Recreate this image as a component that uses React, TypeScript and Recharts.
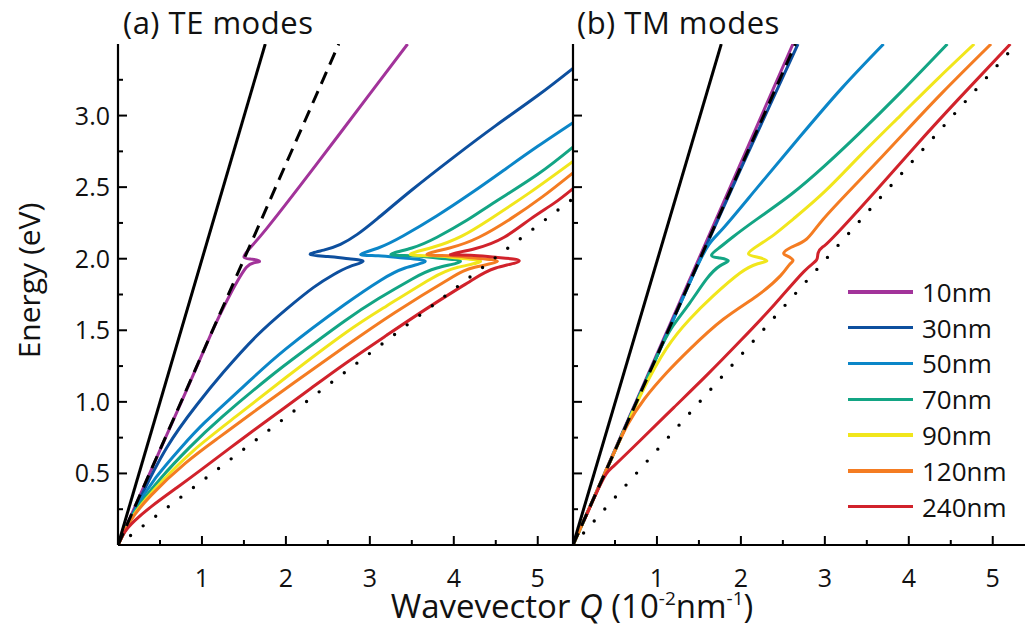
import React from "react";
import { LineChart, Line, XAxis, YAxis, Legend } from "recharts";

type Pt = [number, number];

const FONT = "'Open Sans', 'Noto Sans', sans-serif";

// axes
const Q_MAX = 5.42;
const E_MAX = 3.5;
const Q_TICKS = [0.5, 1, 1.5, 2, 2.5, 3, 3.5, 4, 4.5, 5];
const E_TICKS = [0.25, 0.5, 0.75, 1, 1.25, 1.5, 1.75, 2, 2.25, 2.5, 2.75, 3, 3.25];

// film thickness series
const THICKNESS = ["10nm", "30nm", "50nm", "70nm", "90nm", "120nm", "240nm"];
const COLORS = ["#a2339a", "#0d4f9e", "#0b86c8", "#13a584", "#f1e61c", "#f47c22", "#d1222b"];

// (a) TE modes: light lines
const teLight: Pt[] = [[0, 0], [1.754, 3.5]];
const teSubstrate: Pt[] = [[0, 0], [2.63, 3.5]];
const teCore: Pt[] = [[0, 0], [5.42, 2.42]];

// (a) TE modes: dispersion (Q, E)
const te10: Pt[] = [[0, 0], [0.4, 0.53], [0.8, 1.06], [1.12, 1.49], [1.3, 1.71], [1.42, 1.84], [1.53, 1.94], [1.62, 1.972], [1.686, 1.982], [1.6, 1.996], [1.5, 2.012], [1.58, 2.08], [1.77, 2.21], [2.17, 2.51], [2.65, 2.88], [3.05, 3.19], [3.45, 3.5]];
const te30: Pt[] = [[0, 0], [0.25, 0.31], [0.58, 0.68], [0.94, 0.98], [1.26, 1.21], [1.65, 1.46], [2.01, 1.65], [2.33, 1.8], [2.57, 1.89], [2.76, 1.945], [2.92, 1.982], [2.75, 2.0], [2.5, 2.015], [2.29, 2.03], [2.45, 2.06], [2.65, 2.1], [2.85, 2.17], [3.09, 2.28], [3.5, 2.48], [4.0, 2.71], [4.5, 2.93], [5.0, 3.14], [5.42, 3.33]];
const te50: Pt[] = [[0, 0], [0.2, 0.24], [0.45, 0.47], [0.75, 0.68], [1.04, 0.86], [1.5, 1.11], [2.0, 1.37], [2.7, 1.68], [3.13, 1.85], [3.42, 1.935], [3.66, 1.982], [3.4, 2.005], [3.1, 2.02], [2.89, 2.03], [3.1, 2.075], [3.4, 2.16], [3.8, 2.3], [4.2, 2.455], [4.6, 2.62], [5.0, 2.785], [5.42, 2.95]];
const te70: Pt[] = [[0, 0], [0.2, 0.23], [0.5, 0.46], [0.85, 0.68], [1.25, 0.9], [1.8, 1.17], [2.2, 1.35], [2.7, 1.565], [3.1, 1.72], [3.5, 1.857], [3.8, 1.935], [4.08, 1.982], [3.8, 2.005], [3.5, 2.02], [3.25, 2.03], [3.5, 2.075], [3.8, 2.15], [4.16, 2.27], [4.5, 2.4], [5.0, 2.59], [5.42, 2.78]];
const te90: Pt[] = [[0, 0], [0.2, 0.22], [0.5, 0.43], [0.9, 0.66], [1.41, 0.9], [2.0, 1.17], [2.7, 1.478], [3.2, 1.67], [3.72, 1.857], [4.05, 1.94], [4.32, 1.982], [4.05, 2.005], [3.75, 2.02], [3.48, 2.03], [3.75, 2.08], [4.1, 2.16], [4.44, 2.28], [4.9, 2.46], [5.42, 2.68]];
const te120: Pt[] = [[0, 0], [0.15, 0.17], [0.4, 0.35], [0.8, 0.57], [1.2, 0.75], [1.57, 0.91], [2.1, 1.135], [2.7, 1.385], [3.3, 1.625], [3.94, 1.857], [4.25, 1.94], [4.52, 1.982], [4.25, 2.005], [3.95, 2.02], [3.68, 2.03], [3.95, 2.075], [4.3, 2.15], [4.68, 2.28], [5.05, 2.43], [5.42, 2.6]];
const te240: Pt[] = [[0, 0], [0.08, 0.09], [0.2, 0.17], [0.4, 0.27], [0.7, 0.4], [1.0, 0.53], [1.43, 0.72], [1.87, 0.91], [2.3, 1.095], [2.7, 1.265], [3.2, 1.465], [3.7, 1.66], [4.2, 1.845], [4.5, 1.935], [4.78, 1.985], [4.5, 2.01], [4.2, 2.025], [3.96, 2.03], [4.25, 2.07], [4.6, 2.15], [4.92, 2.28], [5.2, 2.39], [5.42, 2.49]];

// (b) TM modes: light lines
const tmLight: Pt[] = [[0, 0], [1.766, 3.5]];
const tmSubstrate: Pt[] = [[0, 0], [2.65, 3.5]];
const tmCore: Pt[] = [[0, 0], [5.28, 3.5]];

// (b) TM modes: dispersion (Q, E)
const tm10: Pt[] = [[0, 0], [1.2, 1.6], [2.62, 3.5]];
const tm30: Pt[] = [[0, 0], [1.2, 1.585], [2.0, 2.63], [2.68, 3.5]];
const tm50: Pt[] = [[0, 0], [0.75, 0.99], [1.2, 1.58], [1.45, 1.91], [1.62, 2.1], [1.8, 2.22], [2.2, 2.5], [2.7, 2.85], [3.2, 3.19], [3.7, 3.5]];
const tm70: Pt[] = [[0, 0], [0.6, 0.79], [1.0, 1.32], [1.19, 1.53], [1.39, 1.69], [1.59, 1.857], [1.75, 1.95], [1.85, 1.985], [1.75, 2.005], [1.65, 2.025], [1.75, 2.08], [1.9, 2.15], [2.2, 2.28], [2.6, 2.45], [3.0, 2.65], [3.4, 2.87], [3.9, 3.16], [4.46, 3.5]];
const tm90: Pt[] = [[0, 0], [0.5, 0.66], [0.72, 0.94], [0.85, 1.1], [1.11, 1.37], [1.39, 1.577], [1.67, 1.74], [1.99, 1.9], [2.2, 1.965], [2.31, 1.985], [2.2, 2.01], [2.09, 2.035], [2.2, 2.09], [2.4, 2.17], [2.63, 2.28], [3.0, 2.47], [3.42, 2.72], [3.9, 3.0], [4.35, 3.26], [4.78, 3.5]];
const tm120: Pt[] = [[0, 0], [0.44, 0.58], [0.65, 0.84], [0.85, 1.02], [1.11, 1.2], [1.39, 1.367], [1.79, 1.577], [2.19, 1.74], [2.47, 1.88], [2.58, 1.96], [2.62, 1.99], [2.55, 2.02], [2.51, 2.04], [2.6, 2.08], [2.78, 2.136], [2.98, 2.276], [3.4, 2.54], [3.9, 2.85], [4.4, 3.16], [4.98, 3.5]];
const tm240: Pt[] = [[0.13, 0.17], [0.3, 0.39], [0.4, 0.5], [0.5, 0.56], [0.8, 0.73], [1.2, 0.96], [1.6, 1.19], [2.0, 1.43], [2.4, 1.68], [2.75, 1.91], [2.9, 1.99], [2.92, 2.04], [2.97, 2.08], [3.1, 2.15], [3.6, 2.47], [4.1, 2.8], [4.6, 3.12], [5.21, 3.5]];

const toRows = (pts: Pt[]) => pts.map(([q, e]) => ({ q, e }));

// inward ticks, drawn at the positions recharts gives us
const BottomTick = (props: any) => {
  const { x, y, payload, showLabel } = props;
  const v = payload.value;
  const major = Number.isInteger(v);
  return (
    <g>
      <line x1={x} x2={x} y1={y} y2={y - (major ? 9 : 5)} stroke="#000" strokeWidth={2} />
      {major && showLabel && (
        <text x={x} y={y + 42} textAnchor="middle" fontSize={25} fill="#111" fontFamily={FONT}>
          {v}
        </text>
      )}
    </g>
  );
};

const TopTick = (props: any) => {
  const { x, y, payload } = props;
  const major = Number.isInteger(payload.value);
  return <line x1={x} x2={x} y1={y} y2={y + (major ? 9 : 5)} stroke="#000" strokeWidth={2} />;
};

const LeftTick = (props: any) => {
  const { x, y, payload, showLabel } = props;
  const v = payload.value;
  const major = Math.abs(v * 2 - Math.round(v * 2)) < 1e-6;
  return (
    <g>
      <line x1={x} x2={x + (major ? 9 : 5)} y1={y} y2={y} stroke="#000" strokeWidth={2} />
      {major && showLabel && (
        <text x={x - 8} y={y + 9} textAnchor="end" fontSize={25} fill="#111" fontFamily={FONT}>
          {v.toFixed(1)}
        </text>
      )}
    </g>
  );
};

const RightTick = (props: any) => {
  const { x, y, payload } = props;
  const v = payload.value;
  const major = Math.abs(v * 2 - Math.round(v * 2)) < 1e-6;
  return <line x1={x} x2={x - (major ? 9 : 5)} y1={y} y2={y} stroke="#000" strokeWidth={2} />;
};

const renderLegend = (props: any) => {
  const items = (props.payload || [])
    .filter((p: any) => THICKNESS.includes(p.value))
    .sort((a: any, b: any) => THICKNESS.indexOf(a.value) - THICKNESS.indexOf(b.value));
  return (
    <div style={{ fontFamily: FONT }}>
      {items.map((p: any) => (
        <div key={p.value} style={{ display: "flex", alignItems: "center", height: 35.8 }}>
          <span style={{ display: "inline-block", width: 65, height: 3.5, background: p.color }} />
          <span style={{ marginLeft: 9, fontSize: 26, color: "#111", lineHeight: "30px" }}>{p.value}</span>
        </div>
      ))}
    </div>
  );
};

const axisLine = { stroke: "#000", strokeWidth: 2.2 };

const supStyle: React.CSSProperties = { fontSize: 19, position: "relative", top: -13, lineHeight: 0 };

function Panel({
  curves,
  light,
  substrate,
  core,
  dotGap,
  showYLabels,
  showLegend,
}: {
  curves: Pt[][];
  light: Pt[];
  substrate: Pt[];
  core: Pt[];
  dotGap: number;
  showYLabels: boolean;
  showLegend: boolean;
}) {
  return (
    <LineChart width={600} height={629} margin={{ top: 44, right: 27, bottom: 0, left: 0 }}>
      <XAxis
        xAxisId="b"
        type="number"
        dataKey="q"
        domain={[0, Q_MAX]}
        allowDataOverflow
        ticks={Q_TICKS}
        interval={0}
        height={84}
        tickSize={0}
        tickMargin={0}
        tickLine={false}
        axisLine={axisLine}
        tick={(p: any) => <BottomTick {...p} showLabel />}
      />
      <XAxis
        xAxisId="t"
        orientation="top"
        type="number"
        dataKey="q"
        domain={[0, Q_MAX]}
        allowDataOverflow
        ticks={Q_TICKS}
        interval={0}
        height={0}
        tickSize={0}
        tickMargin={0}
        tickLine={false}
        axisLine={axisLine}
        tick={(p: any) => <TopTick {...p} />}
      />
      <YAxis
        yAxisId="l"
        type="number"
        dataKey="e"
        domain={[0, E_MAX]}
        allowDataOverflow
        ticks={E_TICKS}
        interval={0}
        width={118}
        tickSize={0}
        tickMargin={0}
        tickLine={false}
        axisLine={axisLine}
        tick={(p: any) => <LeftTick {...p} showLabel={showYLabels} />}
        label={
          showYLabels
            ? {
                content: (lp: any) => {
                  const vb = lp.viewBox || { x: 0, y: 44, height: 501 };
                  const cx = vb.x + 28;
                  const cy = vb.y + vb.height / 2 - 14;
                  return (
                    <text
                      x={cx}
                      y={cy}
                      transform={`rotate(-90 ${cx} ${cy})`}
                      textAnchor="middle"
                      dominantBaseline="central"
                      fontSize={30}
                      fill="#111"
                      fontFamily={FONT}
                    >
                      Energy (eV)
                    </text>
                  );
                },
              }
            : undefined
        }
      />
      <YAxis
        yAxisId="r"
        orientation="right"
        type="number"
        dataKey="e"
        domain={[0, E_MAX]}
        allowDataOverflow
        ticks={E_TICKS}
        interval={0}
        width={0}
        tickSize={0}
        tickMargin={0}
        tickLine={false}
        axisLine={axisLine}
        tick={(p: any) => <RightTick {...p} />}
      />
      {curves.map((c, i) => (
        <Line
          key={THICKNESS[i]}
          xAxisId="b"
          yAxisId="l"
          data={toRows(c)}
          dataKey="e"
          name={THICKNESS[i]}
          type="natural"
          stroke={COLORS[i]}
          strokeWidth={3}
          dot={false}
          activeDot={false}
          isAnimationActive={false}
        />
      ))}
      <Line
        xAxisId="b"
        yAxisId="l"
        data={toRows(core)}
        dataKey="e"
        name="core"
        type="linear"
        stroke="#000"
        strokeWidth={3.4}
        strokeDasharray={`0 ${dotGap}`}
        strokeLinecap="round"
        dot={false}
        activeDot={false}
        legendType="none"
        isAnimationActive={false}
      />
      <Line
        xAxisId="b"
        yAxisId="l"
        data={toRows(substrate)}
        dataKey="e"
        name="substrate"
        type="linear"
        stroke="#000"
        strokeWidth={3}
        strokeDasharray="13 8"
        dot={false}
        activeDot={false}
        legendType="none"
        isAnimationActive={false}
      />
      <Line
        xAxisId="b"
        yAxisId="l"
        data={toRows(light)}
        dataKey="e"
        name="light"
        type="linear"
        stroke="#000"
        strokeWidth={3}
        dot={false}
        activeDot={false}
        legendType="none"
        isAnimationActive={false}
      />
      {showLegend && (
        <Legend
          layout="vertical"
          align="center"
          verticalAlign="middle"
          content={renderLegend}
          wrapperStyle={{ left: 393, top: 274, width: 180 }}
        />
      )}
    </LineChart>
  );
}

export default function App() {
  return (
    <div
      style={{
        position: "fixed",
        left: 0,
        top: 0,
        width: 1025,
        height: 629,
        overflow: "hidden",
        background: "#fff",
        fontFamily: FONT,
        color: "#111",
      }}
    >
      <div style={{ position: "absolute", left: 0, top: 0 }}>
        <Panel
          curves={[te10, te30, te50, te70, te90, te120, te240]}
          light={teLight}
          substrate={teSubstrate}
          core={teCore}
          dotGap={15.8}
          showYLabels
          showLegend={false}
        />
      </div>
      <div style={{ position: "absolute", left: 455, top: 0 }}>
        <Panel
          curves={[tm10, tm30, tm50, tm70, tm90, tm120, tm240]}
          light={tmLight}
          substrate={tmSubstrate}
          core={tmCore}
          dotGap={16}
          showYLabels={false}
          showLegend
        />
      </div>
      <div
        style={{
          position: "absolute",
          left: 123,
          top: 2.5,
          fontSize: 31,
          letterSpacing: 0.5,
          lineHeight: "38px",
          whiteSpace: "nowrap",
        }}
      >
        (a) TE modes
      </div>
      <div
        style={{
          position: "absolute",
          left: 577,
          top: 2.5,
          fontSize: 31,
          letterSpacing: 0.5,
          lineHeight: "38px",
          whiteSpace: "nowrap",
        }}
      >
        (b) TM modes
      </div>
      <div
        style={{
          position: "absolute",
          left: 122,
          width: 900,
          top: 588,
          textAlign: "center",
          fontSize: 33,
          lineHeight: "36px",
          whiteSpace: "nowrap",
        }}
      >
        Wavevector <i>Q</i> (10<span style={supStyle}>-2</span>nm<span style={supStyle}>-1</span>)
      </div>
    </div>
  );
}
